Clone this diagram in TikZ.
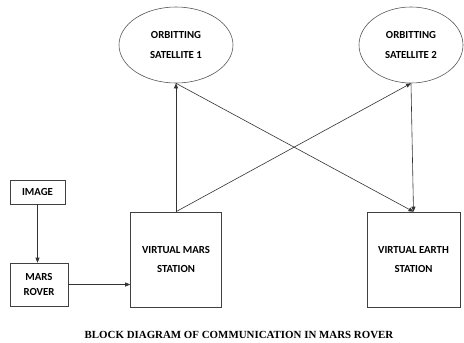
\documentclass[tikz,border=0pt]{standalone}
\usepackage{fontspec}
\setmainfont{Carlito}
\newfontfamily\capfont{Liberation Serif}
\usetikzlibrary{shapes.geometric,arrows.meta}
\begin{document}
\begin{tikzpicture}[x=1pt,y=1pt,
  lbl/.style={font=\fontsize{10.8}{18.5}\selectfont\bfseries, align=center, text=black},
  sat/.style={ellipse, draw=black!65, line width=0.6pt, inner sep=0pt, lbl, font=\fontsize{10.8}{20}\selectfont\bfseries},
  blk/.style={rectangle, draw=black!75, line width=0.6pt, inner sep=0pt, lbl},
  link/.style={draw=black!80, line width=0.6pt, -{Triangle[length=5pt,width=4pt]}}]
\useasboundingbox (0,0) rectangle (464,-343);
\fill[white] (0,0) rectangle (464,-343);
\node[sat, minimum width=114, minimum height=76] (sat1) at (176,-45) {ORBITTING\\SATELLITE 1};
\node[sat, minimum width=104, minimum height=76] (sat2) at (411,-45) {ORBITTING\\SATELLITE 2};
\node[blk, minimum width=91, minimum height=95] (vms) at (176,-259.5) {VIRTUAL MARS\\STATION};
\node[blk, minimum width=93, minimum height=95] (ves) at (413.5,-259.5) {VIRTUAL EARTH\\STATION};
\node[blk, minimum width=55, minimum height=24] (img) at (37.5,-192) {IMAGE};
\node[blk, minimum width=58, minimum height=43, font=\fontsize{10.8}{15}\selectfont\bfseries] (rover) at (39,-284.5) {MARS\\ROVER};
\node[font=\fontsize{10.9}{12}\capfont\bfseries, text=black] (cap) at (239,-335) {BLOCK DIAGRAM OF COMMUNICATION IN MARS ROVER};
\draw[link] (img.south) -- (img.south |- rover.north);
\draw[link] (rover.east) -- (rover.east -| vms.west);
\draw[link] (vms.north) -- (sat1.south);
\draw[link] (vms.north) -- (sat2.south);
\draw[link] (sat1.south) -- (ves.north);
\draw[link] (sat2.south) -- (ves.north);
\end{tikzpicture}
\end{document}
